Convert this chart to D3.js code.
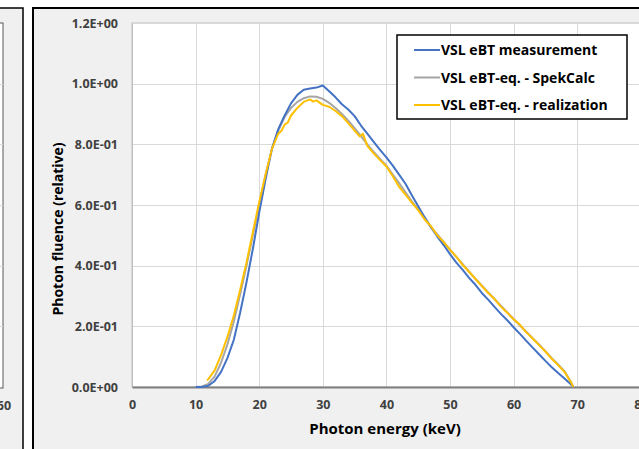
<!DOCTYPE html>
<html>
<head>
<meta charset="utf-8">
<script src="https://cdn.jsdelivr.net/npm/d3@7"></script>
<style>
  body { margin:0; background:#fff; }
  text { font-family: "Open Sans", "Noto Sans", sans-serif; font-weight:bold; }
</style>
</head>
<body>
<div id="content"></div>
<script>
// energies (keV) and relative photon fluence
const energyBlue = [10, 11, 12, 13, 14, 15, 16, 17, 18, 19, 20, 21, 22, 23, 24, 25, 26, 27, 28, 29, 30,
    31, 32, 33, 34, 35, 36, 37, 38, 39, 40, 41, 42, 43, 44, 45, 46, 47, 48, 49, 50,
    51, 52, 53, 54, 55, 56, 57, 58, 59, 60, 61, 62, 63, 64, 65, 66, 67, 68, 69, 69.4];
const measurement = [0, 0, 0.004, 0.02, 0.05, 0.095, 0.155, 0.245, 0.345, 0.455, 0.575, 0.685, 0.785, 0.85, 0.895, 0.935, 0.963, 0.98, 0.984, 0.987, 0.994,
    0.975, 0.955, 0.932, 0.915, 0.893, 0.862, 0.835, 0.808, 0.782, 0.757, 0.73, 0.70, 0.67, 0.632, 0.596, 0.56, 0.527, 0.496, 0.468, 0.438,
    0.41, 0.386, 0.36, 0.337, 0.31, 0.288, 0.264, 0.241, 0.22, 0.197, 0.175, 0.152, 0.13, 0.108, 0.086, 0.065, 0.046, 0.028, 0.009, 0];

const energyGrey = energyBlue;
const spekCalc = [0, 0.002, 0.01, 0.035, 0.08, 0.14, 0.215, 0.305, 0.40, 0.50, 0.60, 0.70, 0.785, 0.845, 0.89, 0.92, 0.94, 0.952, 0.958, 0.957, 0.95,
    0.937, 0.92, 0.90, 0.878, 0.853, 0.827, 0.80, 0.775, 0.752, 0.73, 0.70, 0.672, 0.642, 0.612, 0.585, 0.555, 0.528, 0.503, 0.478, 0.453,
    0.428, 0.405, 0.38, 0.357, 0.335, 0.312, 0.29, 0.268, 0.246, 0.224, 0.203, 0.182, 0.161, 0.14, 0.118, 0.095, 0.074, 0.052, 0.017, 0];

const energyYellow = [11.8, 12, 13, 14, 15, 16, 17, 18, 19, 20, 21, 22, 23, 23.5, 24, 24.5, 25, 26, 27, 28, 28.5, 29, 30,
    31, 32, 33, 34, 35, 35.8, 36.3, 37, 38, 39, 40, 41, 42, 43, 44, 45, 46, 47, 48, 49, 50,
    51, 52, 53, 54, 55, 56, 57, 58, 59, 60, 61, 62, 63, 64, 65, 66, 67, 68, 69, 69.4];
const realization = [0.022, 0.026, 0.055, 0.105, 0.165, 0.235, 0.32, 0.41, 0.51, 0.61, 0.70, 0.785, 0.835, 0.845, 0.865, 0.872, 0.895, 0.92, 0.94, 0.948, 0.941, 0.945, 0.93,
    0.924, 0.91, 0.893, 0.87, 0.845, 0.826, 0.835, 0.795, 0.77, 0.748, 0.727, 0.695, 0.66, 0.634, 0.608, 0.583, 0.553, 0.53, 0.5, 0.478, 0.452,
    0.43, 0.402, 0.38, 0.356, 0.333, 0.31, 0.29, 0.265, 0.245, 0.223, 0.205, 0.18, 0.16, 0.138, 0.117, 0.093, 0.072, 0.05, 0.016, 0];

const seriesNames = ["VSL eBT measurement", "VSL eBT-eq. - SpekCalc", "VSL eBT-eq. - realization"];
const seriesColors = ["#4472C4", "#A5A5A5", "#FFC000"];
const xTicks = [0, 10, 20, 30, 40, 50, 60, 70, 80];
const yTicks = [0, 0.2, 0.4, 0.6, 0.8, 1.0, 1.2];

const W = 639, H = 449;
const svg = d3.select("#content").append("svg")
    .attr("width", W).attr("height", H);

const x = d3.scaleLinear().domain([0, 80]).range([132, 640.8]);
const y = d3.scaleLinear().domain([0, 1.2]).range([387, 23]);

const fmtE = v => {
    if (v === 0) return "0.0E+00";
    const e = Math.floor(Math.log10(v) + 1e-9);
    const m = v / Math.pow(10, e);
    return m.toFixed(1) + "E" + (e < 0 ? "-" : "+") + String(Math.abs(e)).padStart(2, "0");
};

//////////////////// left neighbour panel (cut off)
svg.append("rect").attr("x", -10).attr("y", 8).attr("width", 33).attr("height", 460)
    .attr("fill", "#f0f0f0").attr("stroke", "#000").attr("stroke-width", 1.5);
svg.append("rect").attr("x", -10).attr("y", 23).attr("width", 13).attr("height", 365)
    .attr("fill", "#fff").attr("stroke", "#595959").attr("stroke-width", 1);
svg.selectAll(".lgrid").data(yTicks.slice(1, -1)).enter().append("line")
    .attr("x1", -10).attr("x2", 3)
    .attr("y1", d => Math.round(y(d)) + 0.5).attr("y2", d => Math.round(y(d)) + 0.5)
    .attr("stroke", "#d9d9d9");
svg.append("text").attr("x", 4).attr("y", 410).attr("text-anchor", "middle")
    .attr("font-size", 12.5).attr("fill", "#404040").text("60");

//////////////////// main panel
svg.append("rect").attr("x", 33).attr("y", 8).attr("width", 700).attr("height", 500)
    .attr("fill", "#f0f0f0").attr("stroke", "#000").attr("stroke-width", 2);

svg.append("rect").attr("x", 132).attr("y", 23).attr("width", 520).attr("height", 364)
    .attr("fill", "#fff").attr("stroke", "#bfbfbf");

const grid = svg.append("g");
grid.selectAll(".vg").data(xTicks.slice(1)).enter().append("line")
    .attr("x1", d => Math.round(x(d)) + 0.5).attr("x2", d => Math.round(x(d)) + 0.5)
    .attr("y1", 23).attr("y2", 387)
    .attr("stroke", "#d9d9d9").attr("stroke-width", 1);
grid.selectAll(".hg").data(yTicks.slice(1)).enter().append("line")
    .attr("x1", 132).attr("x2", 641)
    .attr("y1", d => Math.round(y(d)) + 0.5).attr("y2", d => Math.round(y(d)) + 0.5)
    .attr("stroke", "#d9d9d9").attr("stroke-width", 1);

// axes
const yAxis = svg.append("g").attr("transform", "translate(132,0)")
    .call(d3.axisLeft(y).tickValues(yTicks).tickFormat(fmtE).tickSize(0).tickPadding(14));
yAxis.select(".domain").attr("stroke", "#bfbfbf");
yAxis.selectAll("text").attr("font-size", 12.5).attr("fill", "#404040")
    .attr("font-family", "'Open Sans', sans-serif").attr("font-weight", "bold");

const xAxis = svg.append("g").attr("transform", "translate(0,387)")
    .call(d3.axisBottom(x).tickValues(xTicks).tickSize(0).tickPadding(13));
xAxis.select(".domain").attr("stroke", "#7f7f7f").attr("stroke-width", 2);
xAxis.selectAll("text").attr("font-size", 12.5).attr("fill", "#404040")
    .attr("font-family", "'Open Sans', sans-serif").attr("font-weight", "bold");

// axis titles
svg.append("text").attr("x", 385).attr("y", 434).attr("text-anchor", "middle")
    .attr("font-size", 15).attr("fill", "#000").text("Photon energy (keV)");
svg.append("text").attr("transform", "translate(63,229) rotate(-90)")
    .attr("text-anchor", "middle").attr("font-size", 14).attr("fill", "#000")
    .text("Photon fluence (relative)");

// lines
const lineGen = d3.line().x(d => x(d[0])).y(d => y(d[1]));
const seriesData = [
    d3.zip(energyBlue, measurement),
    d3.zip(energyGrey, spekCalc),
    d3.zip(energyYellow, realization)
];
const drawOrder = [1, 0, 2];
svg.append("g").selectAll("path").data(drawOrder).enter().append("path")
    .attr("d", i => lineGen(seriesData[i]))
    .attr("fill", "none")
    .attr("stroke", i => seriesColors[i])
    .attr("stroke-width", 2)
    .attr("stroke-linejoin", "round");

// legend
const legend = svg.append("g");
legend.append("rect").attr("x", 397).attr("y", 35).attr("width", 230).attr("height", 84)
    .attr("fill", "#fff").attr("stroke", "#000").attr("stroke-width", 1.5);
seriesNames.forEach((name, i) => {
    const ly = 50 + i * 27.5;
    legend.append("line").attr("x1", 414).attr("x2", 440).attr("y1", ly).attr("y2", ly)
        .attr("stroke", seriesColors[i]).attr("stroke-width", 2);
    legend.append("text").attr("x", 441).attr("y", ly + 5)
        .attr("font-size", 14).attr("fill", "#000").text(name);
});
</script>
</body>
</html>
